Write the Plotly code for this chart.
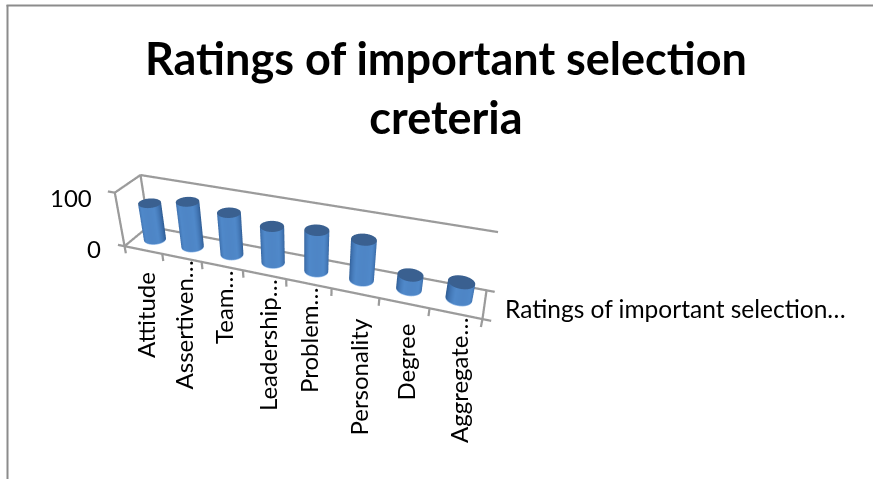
import numpy as np
import plotly.graph_objects as go

# ---- data ----
categories = ["Attitude", "Assertiven…", "Team…", "Leadership…", "Problem…", "Personality", "Degree", "Aggregate…"]
ratings = [70, 85, 78, 67, 74, 72, 26, 30]
series_name = "Ratings of important selection…"
title_text = "Ratings of important selection<br>creteria"
value_ticks = [0, 100]
value_tick_labels = ["0", "100"]

# ---- style / layout (pixels of the 873x479 page) ----
W, H = 873, 479
GRAY = "#9b9b9b"
FONT = "Lato"
label_px = [(145, 270), (183, 259), (223, 268), (267, 277), (308, 285), (358, 317), (405, 322), (458, 315)]

X_EXT, Y_EXT, Z_EXT = (-1, 9), (-1, 2), (-30, 130)
A = (2.717, 0.339, 0.465)
scene_aspect = dict(x=A[0] * 10 / 8, y=A[1] * 3, z=A[2] * 1.6)
camera = dict(eye=dict(x=1.262, y=-3.354, z=2.105),
              center=dict(x=0.028, y=0.045, z=-0.017),
              up=dict(x=-0.117, y=0.332, z=1.087),
              projection=dict(type="perspective"))

RX, RY = 0.26, 0.24
side_scale = [[0, "#2f5c92"], [0.2, "#3c6eab"], [0.5, "#5089ca"], [0.8, "#4a80c0"], [0.9, "#8fb6e6"], [1, "#a9c9f0"]]
cap_scale = [[0, "#3a6090"], [1, "#3f6798"]]
flat = dict(ambient=1, diffuse=0, specular=0, roughness=1, fresnel=0)
no_hl = dict(x=dict(highlight=False), y=dict(highlight=False), z=dict(highlight=False))

fig = go.Figure()

def frame(xs, ys, zs, width=4.5):
    fig.add_trace(go.Scatter3d(x=xs, y=ys, z=zs, mode="lines", line=dict(color=GRAY, width=width),
                               hoverinfo="skip", showlegend=False))

# frame: floor, left wall, back wall top, ticks
n = len(categories)
frame([0, n, n, 0, 0], [0, 0, 1, 1, 0], [0, 0, 0, 0, 0])
frame([0, 0, 0, 0, 0], [0, 0, 1, 1, 0], [0, 100, 100, 0, 0])
frame([0, n], [1, 1], [100, 100])
for i in range(n + 1):
    frame([i, i], [0, 0], [0, -14])
for v in value_ticks:
    frame([0, -0.18], [0, 0], [v, v])
frame([n, n + 0.16], [0, 0], [0, 0])
frame([n, n + 0.16], [1, 1], [0, 0])

# cylinders
t = np.linspace(0, 2 * np.pi, 73)
view = np.arctan2(-3.354 - 0.5, 1.262)
for i, v in enumerate(ratings):
    cx = i + 0.5
    xs = np.tile(cx + RX * np.cos(t), (4, 1))
    ys = np.tile(0.5 + RY * np.sin(t), (4, 1))
    zs = np.outer([0, 1.2, 1.2, v], np.ones_like(t))
    shade = np.clip(np.cos(t - view), 0, 1) ** 1.2 * 0.6 + 0.02
    sc = np.vstack([np.ones_like(t) * 0.95, np.ones_like(t) * 0.95, shade, shade])
    fig.add_trace(go.Surface(x=xs, y=ys, z=zs, surfacecolor=sc, cmin=0, cmax=1, colorscale=side_scale,
                             showscale=False, lighting=flat, hoverinfo="skip", contours=no_hl))
    rr = np.linspace(0, 1, 2)
    xc = cx + np.outer(rr, RX * np.cos(t))
    yc = 0.5 + np.outer(rr, RY * np.sin(t))
    zc = np.full_like(xc, v)
    fig.add_trace(go.Surface(x=xc, y=yc, z=zc, surfacecolor=np.zeros_like(xc), cmin=0, cmax=1, colorscale=cap_scale,
                             showscale=False, lighting=flat, hoverinfo="skip", contours=no_hl))

hidden = dict(visible=False, showspikes=False)
fig.update_layout(
    width=W, height=H, margin=dict(l=0, r=0, t=0, b=0), paper_bgcolor="white", showlegend=False,
    hovermode=False, dragmode=False,
    font=dict(family=FONT, size=24, color="black"),
    title=dict(text="<b>" + title_text + "</b>", x=446 / W, xanchor="center", y=1 - 75 / H, yanchor="top",
               font=dict(family=FONT, size=45, color="black")),
    scene=dict(domain=dict(x=[0, 600 / W], y=[0, 1]), aspectmode="manual", aspectratio=scene_aspect, camera=camera,
               xaxis=dict(hidden, range=list(X_EXT)), yaxis=dict(hidden, range=list(Y_EXT)), zaxis=dict(hidden, range=list(Z_EXT)),
               bgcolor="rgba(0,0,0,0)"),
    shapes=[dict(type="line", xref="paper", yref="paper", x0=7.5 / W, x1=7.5 / W, y0=0, y1=1 - 5 / H, line=dict(color="#8c8c8c", width=2)),
            dict(type="line", xref="paper", yref="paper", x0=6.5 / W, x1=1, y0=1 - 5.5 / H, y1=1 - 5.5 / H, line=dict(color="#8c8c8c", width=2))],
)
for name, (px, py) in zip(categories, label_px):
    fig.add_annotation(text=name, xref="paper", yref="paper", x=px / W, y=1 - py / H, xanchor="center", yanchor="top",
                       textangle=-90, showarrow=False, font=dict(family=FONT, size=24, color="black"))
for lab, (px, py) in zip(value_tick_labels, [(103, 249), (94, 197)]):
    fig.add_annotation(text=lab, xref="paper", yref="paper", x=px / W, y=1 - py / H, xanchor="right", yanchor="middle",
                       showarrow=False, font=dict(family=FONT, size=24, color="black"))
fig.add_annotation(text=series_name, xref="paper", yref="paper", x=503 / W, y=1 - 308 / H, xanchor="left", yanchor="middle",
                   showarrow=False, font=dict(family=FONT, size=24.5, color="black"))

fig.write_html("out.html", config=dict(displayModeBar=False),
               post_script="document.body.style.margin='0';")
